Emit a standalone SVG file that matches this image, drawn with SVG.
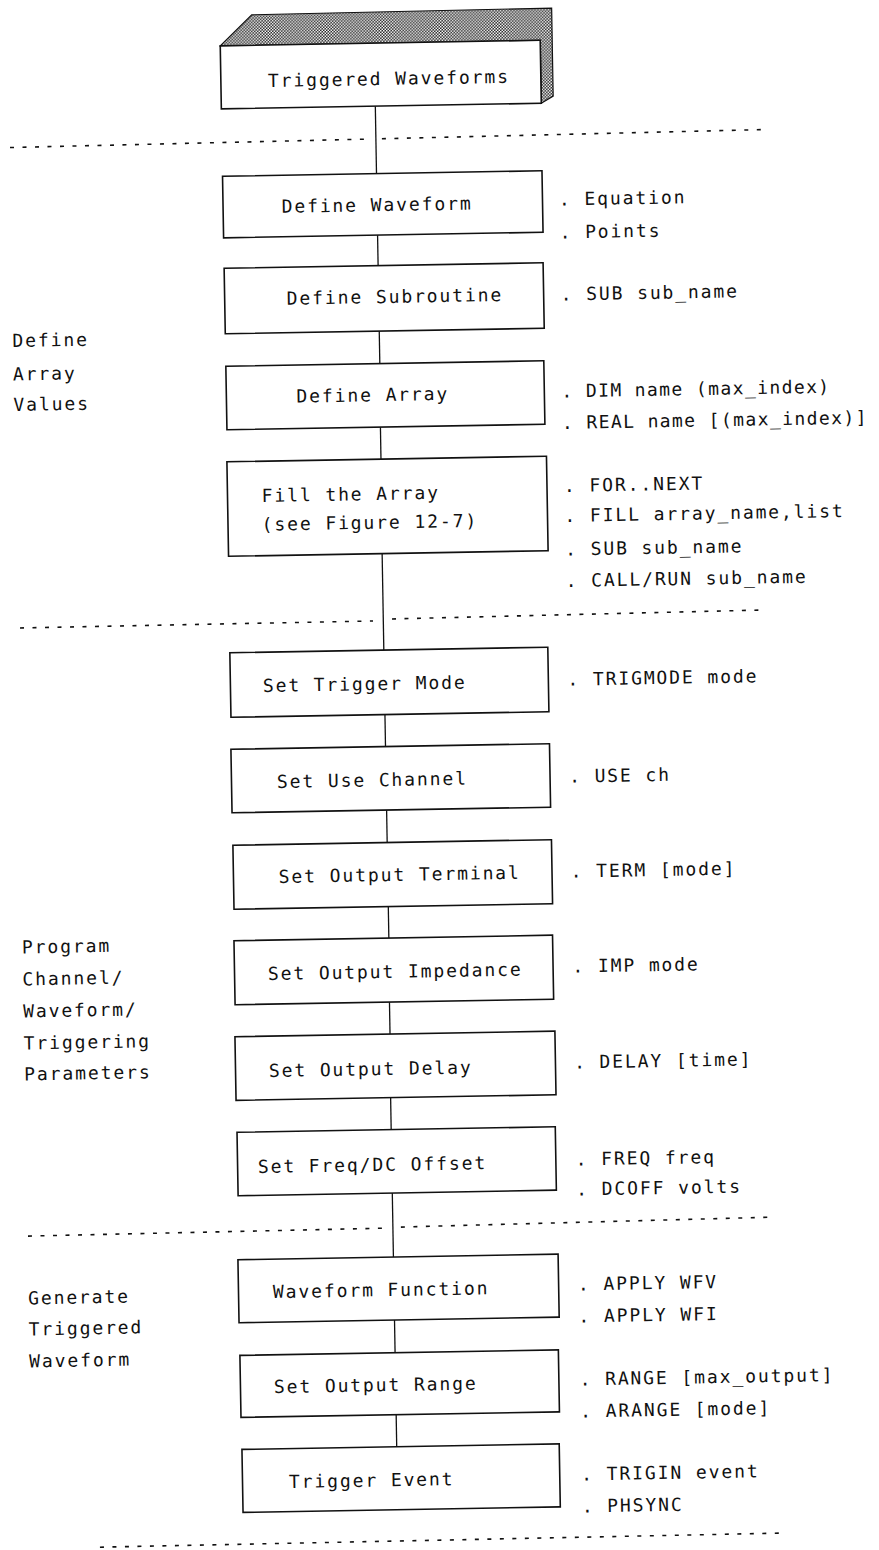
<svg xmlns="http://www.w3.org/2000/svg" width="879" height="1550" viewBox="0 0 879 1550">
<style>
.box{fill:#fff;stroke:#111;stroke-width:1.6}
.t{font-family:"DejaVu Sans Mono","Liberation Mono",monospace;font-size:18px;letter-spacing:1.9px;fill:#111}
.tn{letter-spacing:1.4px}
.conn{stroke:#111;stroke-width:1.3;fill:none}
.sep{stroke:#111;stroke-width:1.6;stroke-dasharray:4 8.5;fill:none}
</style>
<defs>
<pattern id="hatch" width="3" height="3" patternUnits="userSpaceOnUse">
<rect width="3" height="3" fill="#222"/>
<rect x="0" y="0" width="1.5" height="1.5" fill="#fff"/>
<rect x="1.5" y="1.5" width="1.5" height="1.5" fill="#fff"/>
</pattern>
</defs>
<rect width="879" height="1550" fill="#fff"/>
<g transform="rotate(-1 390 775)">
<g id="connectors">
<line class="conn" x1="387" y1="106" x2="387" y2="173.5"/>
<line class="conn" x1="387" y1="235" x2="387" y2="265.5"/>
<line class="conn" x1="387" y1="331" x2="387" y2="363.5"/>
<line class="conn" x1="386.5" y1="427" x2="386.5" y2="459"/>
<line class="conn" x1="386" y1="553.5" x2="386" y2="650"/>
<line class="conn" x1="386" y1="714.5" x2="386" y2="746.5"/>
<line class="conn" x1="386" y1="810" x2="386" y2="842.5"/>
<line class="conn" x1="386" y1="906.5" x2="386" y2="938"/>
<line class="conn" x1="385.5" y1="1002" x2="385.5" y2="1034"/>
<line class="conn" x1="385" y1="1097.6" x2="385" y2="1129.6"/>
<line class="conn" x1="385" y1="1193" x2="385" y2="1257"/>
<line class="conn" x1="385" y1="1320" x2="385" y2="1352.7"/>
<line class="conn" x1="385" y1="1414.7" x2="385" y2="1446.7"/>
</g>
<g id="separators">
<line class="sep" x1="21" y1="141" x2="378" y2="138.8"/>
<line class="sep" x1="393" y1="138.7" x2="775" y2="136.2"/>
<line class="sep" x1="22.6" y1="621.5" x2="375.7" y2="620.7"/>
<line class="sep" x1="394.7" y1="619" x2="768" y2="616.5"/>
<line class="sep" x1="20" y1="1229.7" x2="376" y2="1228"/>
<line class="sep" x1="393" y1="1227.2" x2="768" y2="1223.7"/>
<line class="sep" x1="86.5" y1="1542" x2="766" y2="1539.8"/>
</g>
<g id="labels">
<text class="t" x="20" y="340.5">Define</text>
<text class="t" x="20" y="374">Array</text>
<text class="t" x="20" y="404.5">Values</text>
<text class="t" x="19" y="947">Program</text>
<text class="t" x="19" y="979">Channel/</text>
<text class="t" x="19" y="1011">Waveform/</text>
<text class="t" x="19" y="1043">Triggering</text>
<text class="t" x="19" y="1074">Parameters</text>
<text class="t" x="19" y="1298">Generate</text>
<text class="t" x="19" y="1329">Triggered</text>
<text class="t" x="19" y="1361">Waveform</text>
</g>
<g id="n_triggered_waveforms">
<polygon points="233,43 265,12.5 565,11 565,99 553,106 553,43" fill="url(#hatch)" stroke="#111" stroke-width="1.2"/>
<rect class="box" x="233" y="43" width="320" height="63"/>
<text class="t" x="280" y="85">Triggered Waveforms</text>
</g>
<g id="n_define_waveform">
<rect class="box" x="233" y="173.5" width="319.5" height="61.5"/>
<text class="t" x="291.5" y="211">Define Waveform</text>
<text class="t" x="569" y="208.5">. Equation</text>
<text class="t" x="569" y="241.5">. Points</text>
</g>
<g id="n_define_subroutine">
<rect class="box" x="233" y="265.5" width="319" height="65.5"/>
<text class="t" x="295" y="303">Define Subroutine</text>
<text class="t" x="569" y="303.5">. SUB sub_name</text>
</g>
<g id="n_define_array">
<rect class="box" x="233" y="363.5" width="318" height="63.5"/>
<text class="t" x="303" y="401">Define Array</text>
<text class="t tn" x="568" y="400.5">. DIM name (max_index)</text>
<text class="t tn" x="568" y="432">. REAL name [(max_index)]</text>
</g>
<g id="n_fill_array">
<rect class="box" x="232.4" y="459" width="319.6" height="94.5"/>
<text class="t" x="266.5" y="499.8">Fill the Array</text>
<text class="t" x="266" y="528.5">(see Figure 12-7)</text>
<text class="t" x="569" y="495">. FOR..NEXT</text>
<text class="t" x="569" y="525">. FILL array_name,list</text>
<text class="t" x="569" y="558.5">. SUB sub_name</text>
<text class="t" x="569" y="590">. CALL/RUN sub_name</text>
</g>
<g id="n_trigger_mode">
<rect class="box" x="232" y="650" width="318" height="64.5"/>
<text class="t" x="264.4" y="689.8">Set Trigger Mode</text>
<text class="t" x="569" y="688.7">. TRIGMODE mode</text>
</g>
<g id="n_use_channel">
<rect class="box" x="231.4" y="746.5" width="318.6" height="63.5"/>
<text class="t" x="276.8" y="786">Set Use Channel</text>
<text class="t" x="569" y="785.7">. USE ch</text>
</g>
<g id="n_output_terminal">
<rect class="box" x="231.7" y="842.5" width="318.6" height="64"/>
<text class="t" x="277" y="881">Set Output Terminal</text>
<text class="t" x="569" y="880.7">. TERM [mode]</text>
</g>
<g id="n_output_impedance">
<rect class="box" x="231.1" y="938" width="318.6" height="64"/>
<text class="t" x="264.4" y="977.9">Set Output Impedance</text>
<text class="t" x="569" y="975.7">. IMP mode</text>
</g>
<g id="n_output_delay">
<rect class="box" x="230.4" y="1034" width="320" height="63.6"/>
<text class="t" x="263.7" y="1074.9">Set Output Delay</text>
<text class="t" x="569" y="1071.7">. DELAY [time]</text>
</g>
<g id="n_freq_dc">
<rect class="box" x="230.8" y="1129.6" width="318.3" height="63.4"/>
<text class="t" x="251" y="1170.7">Set Freq/DC Offset</text>
<text class="t" x="569" y="1168.7">. FREQ freq</text>
<text class="t" x="569" y="1198.7">. DCOFF volts</text>
</g>
<g id="n_waveform_function">
<rect class="box" x="229.5" y="1257" width="320.2" height="63"/>
<text class="t" x="263.9" y="1296">Waveform Function</text>
<text class="t" x="569" y="1293.7">. APPLY WFV</text>
<text class="t" x="569" y="1325.7">. APPLY WFI</text>
</g>
<g id="n_output_range">
<rect class="box" x="229.8" y="1352.7" width="318.5" height="62"/>
<text class="t" x="263.2" y="1391">Set Output Range</text>
<text class="t" x="569" y="1388.7">. RANGE [max_output]</text>
<text class="t" x="569" y="1420.7">. ARANGE [mode]</text>
</g>
<g id="n_trigger_event">
<rect class="box" x="230.2" y="1446.7" width="317.3" height="63"/>
<text class="t" x="276.6" y="1486.2">Trigger Event</text>
<text class="t" x="569" y="1483.7">. TRIGIN event</text>
<text class="t" x="569" y="1515.7">. PHSYNC</text>
</g>
</g>
</svg>
